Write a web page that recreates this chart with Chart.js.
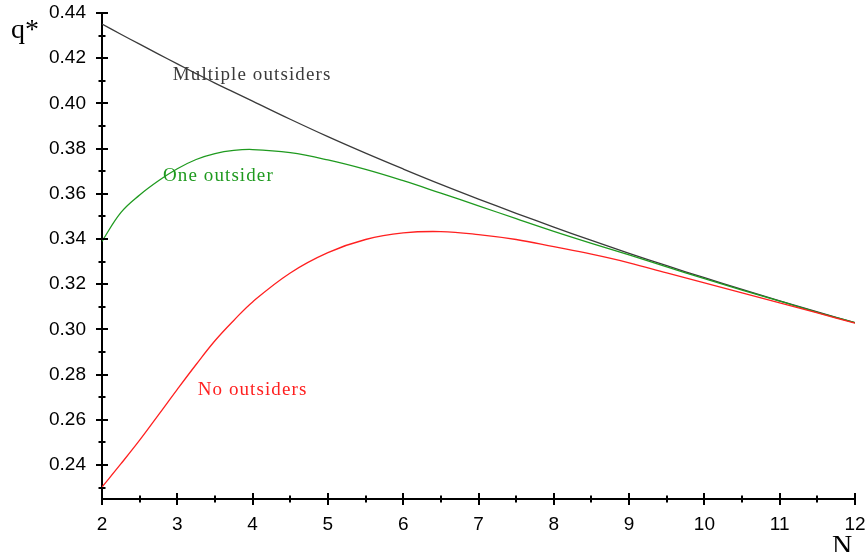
<!DOCTYPE html>
<html><head><meta charset="utf-8">
<script src="https://cdn.jsdelivr.net/npm/chart.js@4/dist/chart.umd.min.js"></script>
<style>html,body{margin:0;padding:0;background:#fff}#wrap{width:865px;height:552px}</style>
</head><body><div id="wrap"><canvas id="c" width="865" height="552"></canvas></div>
<script>
const nValues = [2,2.25,2.5,2.75,3,3.25,3.5,3.75,4,4.5,5,5.5,6,6.5,7,7.5,8,8.5,9,9.5,10,10.5,11,11.5,12];
const multipleOutsiders = [0.4351,0.4306,0.4262,0.4218,0.4175,0.4132,0.4090,0.4050,0.4010,0.3930,0.3853,0.3780,0.3710,0.3642,0.3577,0.3514,0.3453,0.3394,0.3337,0.3282,0.3229,0.3177,0.3127,0.3078,0.3030];
const oneOutsider = [0.3390,0.3517,0.3595,0.3658,0.3711,0.3752,0.3778,0.3792,0.3796,0.3782,0.3750,0.3708,0.3658,0.3603,0.3547,0.3490,0.3434,0.3381,0.3330,0.3277,0.3225,0.3174,0.3125,0.3076,0.3030];
const noOutsiders = [0.2303,0.2405,0.2510,0.2622,0.2735,0.2845,0.2950,0.3040,0.3122,0.3250,0.3340,0.3398,0.3427,0.3433,0.3420,0.3398,0.3366,0.3333,0.3295,0.3250,0.3206,0.3162,0.3118,0.3073,0.3028];
const yTickValues = [0.23,0.24,0.25,0.26,0.27,0.28,0.29,0.30,0.31,0.32,0.33,0.34,0.35,0.36,0.37,0.38,0.39,0.40,0.41,0.42,0.43,0.44];
const seriesNames = ["Multiple outsiders","One outsider","No outsiders"];
const seriesColors = ["#3a3a3a","#1f9a1f","#ff2020"];
const labelX = [2.94, 2.81, 3.27];
const labelY = [0.4126, 0.3679, 0.2732];

const toPts = arr => arr.map((v,i)=>({x:nValues[i], y:v}));

const axisPlugin = {
  id:'axisTicks',
  afterDraw(chart){
    const ctx = chart.ctx, xs = chart.scales.x, ys = chart.scales.y;
    ctx.save();
    ctx.strokeStyle = '#000'; ctx.lineWidth = 2;
    const ax = xs.left, ay = ys.bottom;
    ys.ticks.forEach(t=>{
      const p = Math.round(ys.getPixelForValue(t.value));
      const major = Math.round(t.value*100)%2===0;
      const h = major?6:3.5;
      ctx.beginPath(); ctx.moveTo(ax-h,p); ctx.lineTo(ax+h,p); ctx.stroke();
    });
    xs.ticks.forEach(t=>{
      const p = Math.round(xs.getPixelForValue(t.value));
      const major = Math.abs(t.value-Math.round(t.value))<1e-6;
      const h = major?6:3.5;
      ctx.beginPath(); ctx.moveTo(p,ay-h); ctx.lineTo(p,ay+h); ctx.stroke();
    });
    ctx.fillStyle = '#000';
    ctx.font = '28px "Liberation Serif"';
    ctx.textBaseline = 'alphabetic'; ctx.textAlign = 'left';
    ctx.fillText('q*', 11, 38);
    ctx.fillText('N', 832, 554);
    ctx.font = '19px "Liberation Serif"';
    if ('letterSpacing' in ctx) ctx.letterSpacing = '1.1px';
    ctx.textBaseline = 'middle';
    seriesNames.forEach((s,i)=>{
      ctx.fillStyle = seriesColors[i];
      ctx.fillText(s, xs.getPixelForValue(labelX[i]), ys.getPixelForValue(labelY[i]));
    });
    ctx.restore();
  }
};

new Chart(document.getElementById('c'), {
  type:'line',
  data:{datasets:[
    {label:seriesNames[2], data:toPts(noOutsiders), borderColor:seriesColors[2]},
    {label:seriesNames[1], data:toPts(oneOutsider), borderColor:seriesColors[1]},
    {label:seriesNames[0], data:toPts(multipleOutsiders), borderColor:seriesColors[0]}
  ]},
  options:{
    responsive:false, animation:false,
    layout:{padding:{left:0,right:10,top:13,bottom:0}},
    elements:{point:{radius:0}, line:{borderWidth:1.3, tension:0.4, fill:false}},
    plugins:{legend:{display:false}, tooltip:{enabled:false}},
    scales:{
      x:{type:'linear', min:2, max:12,
        afterFit(s){ s.height = 53; s.paddingLeft = 0; s.paddingRight = 0; },
        afterBuildTicks(s){ const t=[]; for(let v=2; v<=12.0001; v+=0.5) t.push({value:v}); s.ticks=t; },
        grid:{display:false, drawTicks:false},
        border:{display:true, color:'#000', width:2},
        ticks:{autoSkip:false, maxRotation:0, padding:14, color:'#000',
          font:{family:'"Liberation Sans"', size:19},
          callback:v=> Math.abs(v-Math.round(v))<1e-6 ? String(Math.round(v)) : ''}
      },
      y:{type:'linear', min:0.225, max:0.44,
        afterFit(s){ s.width = 102; s.paddingTop = 0; s.paddingBottom = 0; },
        afterBuildTicks(s){ s.ticks = yTickValues.map(v=>({value:v})); },
        grid:{display:false, drawTicks:false},
        border:{display:true, color:'#000', width:2},
        ticks:{autoSkip:false, padding:16, color:'#000',
          font:{family:'"Liberation Sans"', size:19},
          callback:v=> Math.round(v*100)%2===0 ? v.toFixed(2) : ''}
      }
    }
  },
  plugins:[axisPlugin]
});
</script></body></html>
